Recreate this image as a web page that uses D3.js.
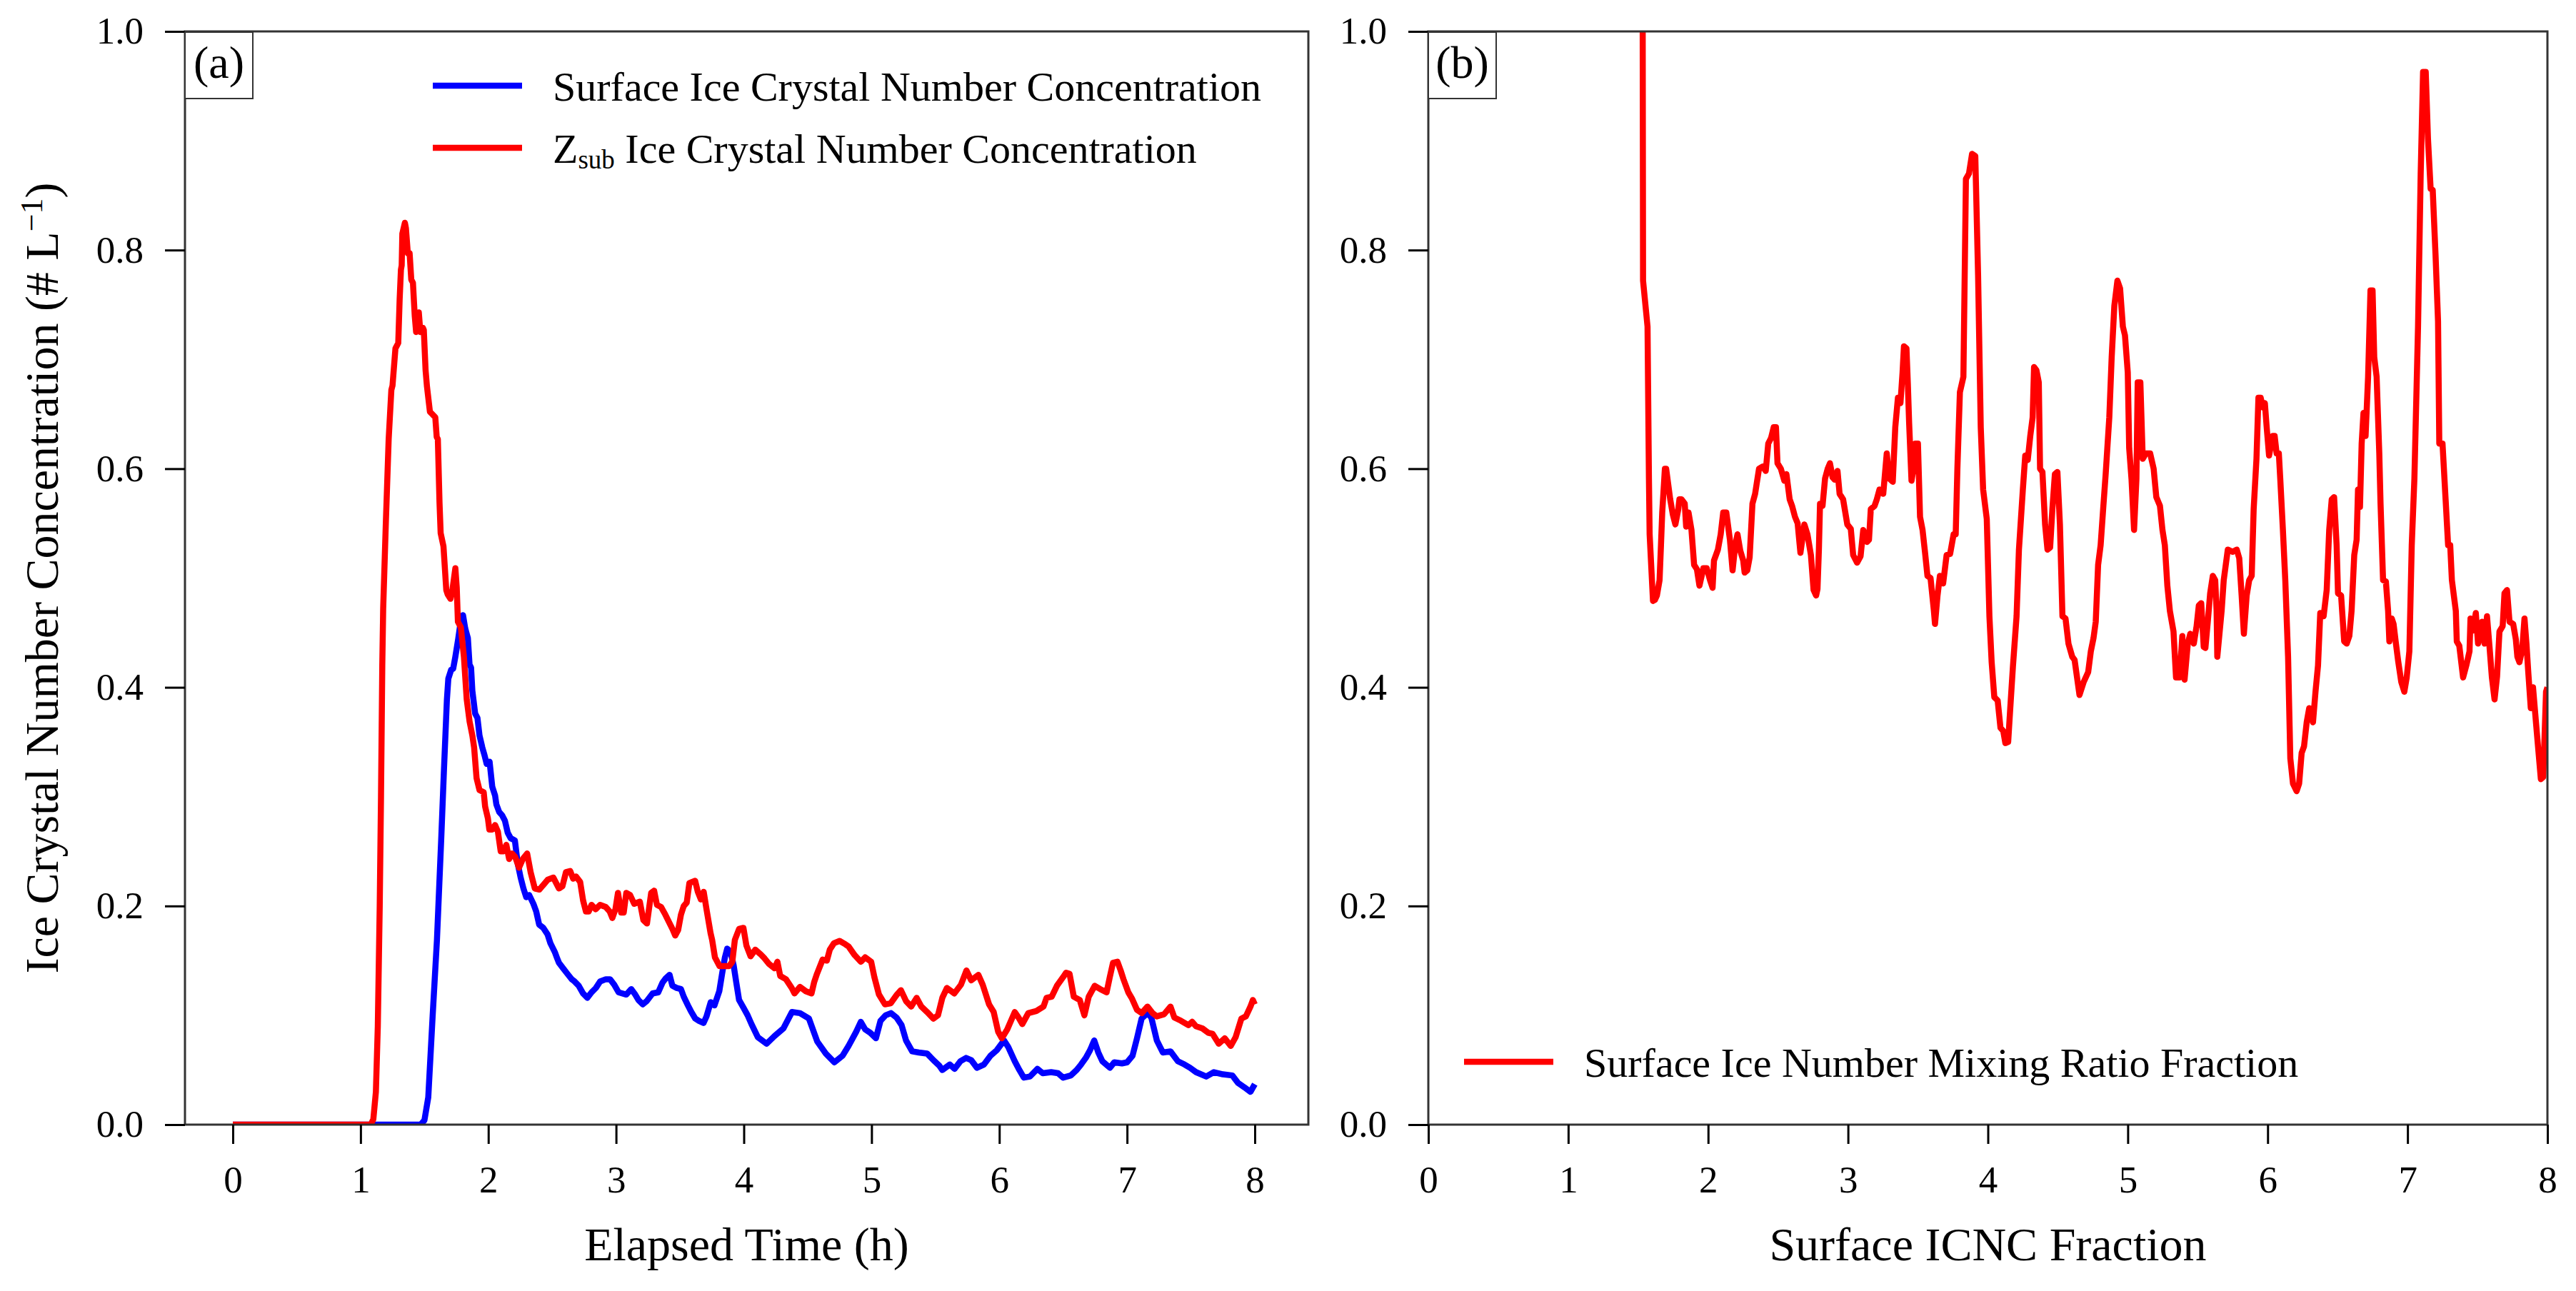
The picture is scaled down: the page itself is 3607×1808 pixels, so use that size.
<!DOCTYPE html>
<html>
<head>
<meta charset="utf-8">
<script src="https://cdn.jsdelivr.net/npm/d3@7"></script>
<style>
  body { margin: 0; background: #fff; }
  text { font-family: "Liberation Serif", "Times New Roman", serif; fill: #000; }
</style>
</head>
<body>
<div id="chart"></div>
<script>
// ---- data ----
// (a) surface ice crystal number concentration (# L-1) vs elapsed time (h)
const surfTime = [0, 1.47, 1.50, 1.53, 1.564, 1.598, 1.631, 1.653, 1.676, 1.687, 1.709, 1.725, 1.742, 1.764, 1.786, 1.802, 1.819, 1.84, 1.853, 1.865, 1.875, 1.897, 1.915, 1.931, 1.953, 1.97, 1.987, 2.01, 2.031, 2.053, 2.063, 2.085, 2.108, 2.13, 2.152, 2.175, 2.208, 2.23, 2.253, 2.275, 2.297, 2.32, 2.353, 2.375, 2.398, 2.43, 2.464, 2.486, 2.52, 2.536, 2.553, 2.586, 2.619, 2.653, 2.675, 2.708, 2.742, 2.775, 2.808, 2.842, 2.875, 2.92, 2.953, 2.986, 3.02, 3.08, 3.119, 3.15, 3.175, 3.209, 3.24, 3.286, 3.33, 3.364, 3.39, 3.419, 3.441, 3.475, 3.508, 3.53, 3.563, 3.585, 3.62, 3.648, 3.685, 3.708, 3.741, 3.77, 3.808, 3.83, 3.852, 3.87, 3.896, 3.92, 3.941, 3.963, 3.997, 4.03, 4.06, 4.11, 4.178, 4.24, 4.31, 4.377, 4.44, 4.51, 4.575, 4.642, 4.709, 4.773, 4.82, 4.88, 4.916, 4.951, 4.99, 5.034, 5.07, 5.11, 5.152, 5.195, 5.235, 5.27, 5.318, 5.37, 5.435, 5.484, 5.53, 5.554, 5.613, 5.65, 5.696, 5.74, 5.78, 5.825, 5.88, 5.931, 5.98, 6.037, 6.07, 6.121, 6.157, 6.192, 6.24, 6.298, 6.34, 6.406, 6.46, 6.50, 6.56, 6.606, 6.64, 6.677, 6.71, 6.743, 6.775, 6.807, 6.866, 6.9, 6.96, 7.0, 7.043, 7.078, 7.114, 7.16, 7.19, 7.233, 7.28, 7.34, 7.398, 7.45, 7.493, 7.54, 7.62, 7.68, 7.75, 7.824, 7.87, 7.92, 7.966, 8.0];
const surfIcnc = [0, 0, 0.004, 0.025, 0.099, 0.169, 0.260, 0.325, 0.389, 0.408, 0.416, 0.417, 0.428, 0.444, 0.462, 0.466, 0.454, 0.445, 0.421, 0.418, 0.397, 0.376, 0.372, 0.356, 0.345, 0.338, 0.330, 0.332, 0.309, 0.301, 0.293, 0.286, 0.283, 0.278, 0.267, 0.262, 0.260, 0.239, 0.226, 0.216, 0.208, 0.210, 0.202, 0.195, 0.183, 0.180, 0.174, 0.166, 0.158, 0.153, 0.148, 0.143, 0.138, 0.133, 0.131, 0.127, 0.120, 0.116, 0.121, 0.125, 0.131, 0.133, 0.133, 0.128, 0.121, 0.119, 0.124, 0.119, 0.114, 0.110, 0.113, 0.120, 0.121, 0.130, 0.134, 0.137, 0.127, 0.125, 0.124, 0.117, 0.109, 0.104, 0.097, 0.095, 0.093, 0.099, 0.112, 0.109, 0.122, 0.138, 0.153, 0.161, 0.158, 0.146, 0.130, 0.114, 0.107, 0.100, 0.092, 0.080, 0.074, 0.081, 0.088, 0.103, 0.102, 0.097, 0.076, 0.065, 0.057, 0.063, 0.072, 0.085, 0.094, 0.087, 0.084, 0.079, 0.095, 0.100, 0.102, 0.098, 0.091, 0.077, 0.067, 0.066, 0.065, 0.059, 0.054, 0.050, 0.055, 0.051, 0.058, 0.061, 0.059, 0.052, 0.055, 0.063, 0.068, 0.077, 0.071, 0.058, 0.050, 0.043, 0.044, 0.051, 0.047, 0.048, 0.047, 0.043, 0.045, 0.050, 0.055, 0.061, 0.068, 0.077, 0.066, 0.058, 0.052, 0.057, 0.056, 0.057, 0.063, 0.079, 0.097, 0.102, 0.098, 0.077, 0.066, 0.067, 0.058, 0.055, 0.052, 0.048, 0.044, 0.048, 0.046, 0.045, 0.038, 0.034, 0.030, 0.037];

// (a) Zsub ice crystal number concentration (# L-1)
const zsubTime = [0, 1.08, 1.10, 1.12, 1.135, 1.15, 1.16, 1.17, 1.177, 1.198, 1.220, 1.241, 1.25, 1.273, 1.295, 1.306, 1.316, 1.322, 1.327, 1.347, 1.355, 1.37, 1.384, 1.397, 1.41, 1.424, 1.435, 1.456, 1.468, 1.487, 1.495, 1.509, 1.520, 1.543, 1.56, 1.585, 1.596, 1.605, 1.618, 1.627, 1.649, 1.671, 1.682, 1.704, 1.72, 1.742, 1.753, 1.762, 1.785, 1.809, 1.831, 1.853, 1.875, 1.889, 1.908, 1.931, 1.964, 1.975, 1.997, 2.008, 2.03, 2.053, 2.075, 2.097, 2.12, 2.141, 2.163, 2.185, 2.21, 2.24, 2.27, 2.304, 2.331, 2.364, 2.40, 2.443, 2.465, 2.509, 2.553, 2.58, 2.608, 2.641, 2.664, 2.686, 2.719, 2.742, 2.764, 2.786, 2.808, 2.84, 2.875, 2.92, 2.95, 2.971, 2.995, 3.015, 3.04, 3.06, 3.08, 3.11, 3.142, 3.186, 3.214, 3.242, 3.275, 3.298, 3.32, 3.353, 3.386, 3.42, 3.441, 3.463, 3.486, 3.508, 3.53, 3.553, 3.574, 3.619, 3.64, 3.664, 3.686, 3.708, 3.74, 3.752, 3.774, 3.81, 3.85, 3.885, 3.91, 3.93, 3.963, 3.997, 4.02, 4.053, 4.09, 4.13, 4.163, 4.197, 4.241, 4.263, 4.285, 4.33, 4.375, 4.397, 4.44, 4.486, 4.53, 4.55, 4.573, 4.617, 4.65, 4.673, 4.706, 4.75, 4.795, 4.82, 4.868, 4.916, 4.95, 4.997, 5.022, 5.058, 5.105, 5.15, 5.199, 5.23, 5.27, 5.31, 5.353, 5.39, 5.435, 5.484, 5.52, 5.554, 5.59, 5.648, 5.70, 5.743, 5.78, 5.836, 5.87, 5.92, 5.956, 5.991, 6.02, 6.062, 6.121, 6.15, 6.18, 6.227, 6.29, 6.346, 6.37, 6.41, 6.451, 6.50, 6.523, 6.55, 6.583, 6.63, 6.666, 6.70, 6.747, 6.79, 6.84, 6.865, 6.89, 6.925, 6.95, 6.972, 7.01, 7.04, 7.078, 7.115, 7.16, 7.2, 7.233, 7.29, 7.34, 7.37, 7.422, 7.48, 7.51, 7.54, 7.59, 7.636, 7.67, 7.718, 7.765, 7.812, 7.85, 7.895, 7.93, 7.966, 7.985, 8.0];
const zsubIcnc = [0, 0, 0.005, 0.03, 0.09, 0.20, 0.30, 0.42, 0.472, 0.551, 0.627, 0.672, 0.676, 0.710, 0.715, 0.755, 0.782, 0.786, 0.815, 0.825, 0.82, 0.797, 0.797, 0.773, 0.77, 0.740, 0.725, 0.743, 0.725, 0.729, 0.727, 0.690, 0.675, 0.652, 0.650, 0.647, 0.629, 0.627, 0.569, 0.541, 0.529, 0.489, 0.485, 0.481, 0.49, 0.509, 0.491, 0.460, 0.455, 0.428, 0.389, 0.369, 0.356, 0.345, 0.317, 0.306, 0.304, 0.291, 0.280, 0.270, 0.270, 0.274, 0.268, 0.250, 0.250, 0.256, 0.243, 0.248, 0.245, 0.235, 0.243, 0.248, 0.231, 0.216, 0.215, 0.221, 0.224, 0.226, 0.216, 0.218, 0.231, 0.232, 0.225, 0.227, 0.222, 0.205, 0.195, 0.195, 0.201, 0.197, 0.201, 0.199, 0.195, 0.189, 0.197, 0.212, 0.194, 0.194, 0.212, 0.210, 0.202, 0.204, 0.187, 0.184, 0.212, 0.214, 0.201, 0.199, 0.192, 0.184, 0.179, 0.173, 0.178, 0.192, 0.200, 0.203, 0.221, 0.223, 0.213, 0.206, 0.213, 0.197, 0.175, 0.169, 0.153, 0.145, 0.145, 0.145, 0.149, 0.169, 0.179, 0.180, 0.164, 0.154, 0.160, 0.156, 0.152, 0.147, 0.143, 0.149, 0.136, 0.133, 0.125, 0.120, 0.126, 0.122, 0.120, 0.130, 0.138, 0.151, 0.150, 0.160, 0.166, 0.168, 0.165, 0.163, 0.155, 0.149, 0.153, 0.149, 0.135, 0.119, 0.110, 0.111, 0.119, 0.123, 0.113, 0.108, 0.116, 0.108, 0.103, 0.097, 0.100, 0.116, 0.125, 0.120, 0.128, 0.141, 0.132, 0.137, 0.128, 0.110, 0.103, 0.085, 0.079, 0.087, 0.103, 0.098, 0.092, 0.102, 0.104, 0.108, 0.116, 0.117, 0.127, 0.135, 0.139, 0.138, 0.117, 0.114, 0.100, 0.117, 0.127, 0.124, 0.121, 0.135, 0.148, 0.149, 0.141, 0.133, 0.121, 0.115, 0.105, 0.102, 0.108, 0.102, 0.099, 0.101, 0.108, 0.098, 0.095, 0.091, 0.094, 0.090, 0.088, 0.084, 0.083, 0.074, 0.079, 0.072, 0.080, 0.097, 0.099, 0.108, 0.114, 0.110];

// (b) surface ice number mixing ratio fraction
const fracTime = [1.528, 1.535, 1.567, 1.577, 1.582, 1.606, 1.62, 1.634, 1.653, 1.663, 1.672, 1.691, 1.70, 1.729, 1.748, 1.766, 1.787, 1.795, 1.81, 1.833, 1.843, 1.86, 1.881, 1.90, 1.92, 1.938, 1.966, 1.99, 2.014, 2.032, 2.042, 2.07, 2.09, 2.108, 2.13, 2.156, 2.175, 2.194, 2.21, 2.23, 2.251, 2.261, 2.28, 2.297, 2.317, 2.336, 2.353, 2.364, 2.39, 2.412, 2.43, 2.45, 2.469, 2.485, 2.496, 2.52, 2.545, 2.56, 2.583, 2.60, 2.621, 2.64, 2.66, 2.688, 2.71, 2.735, 2.754, 2.772, 2.782, 2.792, 2.80, 2.818, 2.836, 2.855, 2.871, 2.89, 2.905, 2.925, 2.94, 2.965, 2.995, 3.02, 3.037, 3.065, 3.09, 3.109, 3.136, 3.15, 3.163, 3.19, 3.206, 3.225, 3.252, 3.277, 3.295, 3.32, 3.338, 3.357, 3.375, 3.39, 3.40, 3.418, 3.428, 3.437, 3.454, 3.468, 3.481, 3.50, 3.515, 3.533, 3.551, 3.568, 3.59, 3.614, 3.622, 3.64, 3.657, 3.68, 3.705, 3.73, 3.755, 3.77, 3.782, 3.80, 3.825, 3.843, 3.865, 3.887, 3.91, 3.93, 3.949, 3.966, 3.992, 4.011, 4.027, 4.046, 4.07, 4.09, 4.11, 4.125, 4.145, 4.16, 4.179, 4.205, 4.222, 4.25, 4.267, 4.285, 4.303, 4.32, 4.33, 4.347, 4.364, 4.373, 4.39, 4.409, 4.426, 4.445, 4.461, 4.479, 4.497, 4.515, 4.533, 4.555, 4.576, 4.603, 4.62, 4.655, 4.685, 4.717, 4.736, 4.755, 4.771, 4.788, 4.806, 4.824, 4.842, 4.868, 4.885, 4.904, 4.926, 4.945, 4.965, 4.98, 5.0, 5.01, 5.027, 5.045, 5.062, 5.071, 5.09, 5.107, 5.13, 5.16, 5.185, 5.204, 5.23, 5.248, 5.265, 5.283, 5.301, 5.327, 5.345, 5.37, 5.39, 5.406, 5.429, 5.447, 5.472, 5.492, 5.508, 5.525, 5.543, 5.555, 5.572, 5.589, 5.608, 5.625, 5.635, 5.64, 5.671, 5.686, 5.715, 5.75, 5.779, 5.797, 5.814, 5.83, 5.85, 5.868, 5.886, 5.90, 5.92, 5.934, 5.95, 5.966, 5.98, 5.993, 6.01, 6.037, 6.05, 6.064, 6.08, 6.09, 6.109, 6.126, 6.146, 6.162, 6.181, 6.207, 6.225, 6.243, 6.26, 6.279, 6.297, 6.324, 6.342, 6.36, 6.376, 6.40, 6.422, 6.44, 6.458, 6.475, 6.493, 6.503, 6.525, 6.547, 6.565, 6.584, 6.60, 6.619, 6.636, 6.646, 6.66, 6.672, 6.685, 6.70, 6.718, 6.735, 6.75, 6.762, 6.779, 6.798, 6.807, 6.825, 6.845, 6.861, 6.87, 6.887, 6.90, 6.915, 6.933, 6.955, 6.977, 6.994, 7.013, 7.03, 7.049, 7.075, 7.094, 7.111, 7.13, 7.146, 7.165, 7.18, 7.20, 7.218, 7.227, 7.25, 7.272, 7.29, 7.305, 7.317, 7.345, 7.352, 7.37, 7.397, 7.42, 7.443, 7.45, 7.468, 7.488, 7.504, 7.532, 7.55, 7.568, 7.586, 7.603, 7.622, 7.64, 7.657, 7.68, 7.693, 7.711, 7.729, 7.755, 7.774, 7.785, 7.80, 7.82, 7.836, 7.85, 7.863, 7.881, 7.897, 7.918, 7.93, 7.953, 7.97, 7.99, 8.0];
const fracValue = [1.4, 0.772, 0.730, 0.591, 0.540, 0.479, 0.48, 0.484, 0.498, 0.530, 0.560, 0.600, 0.600, 0.572, 0.558, 0.549, 0.563, 0.572, 0.572, 0.568, 0.547, 0.560, 0.544, 0.512, 0.508, 0.493, 0.509, 0.509, 0.498, 0.491, 0.516, 0.526, 0.540, 0.560, 0.560, 0.535, 0.507, 0.530, 0.540, 0.525, 0.516, 0.505, 0.507, 0.519, 0.568, 0.577, 0.591, 0.600, 0.602, 0.598, 0.623, 0.628, 0.638, 0.638, 0.605, 0.600, 0.589, 0.595, 0.572, 0.566, 0.556, 0.550, 0.523, 0.549, 0.540, 0.521, 0.489, 0.484, 0.490, 0.526, 0.568, 0.566, 0.591, 0.600, 0.605, 0.592, 0.590, 0.598, 0.577, 0.572, 0.549, 0.545, 0.521, 0.514, 0.520, 0.544, 0.533, 0.535, 0.563, 0.566, 0.572, 0.581, 0.577, 0.614, 0.591, 0.588, 0.638, 0.665, 0.66, 0.688, 0.712, 0.710, 0.677, 0.642, 0.589, 0.600, 0.623, 0.623, 0.556, 0.544, 0.523, 0.502, 0.500, 0.470, 0.458, 0.484, 0.502, 0.495, 0.521, 0.522, 0.540, 0.540, 0.600, 0.670, 0.684, 0.865, 0.870, 0.888, 0.886, 0.777, 0.638, 0.581, 0.554, 0.465, 0.423, 0.391, 0.388, 0.363, 0.360, 0.349, 0.350, 0.381, 0.419, 0.465, 0.526, 0.581, 0.612, 0.608, 0.630, 0.647, 0.693, 0.690, 0.679, 0.600, 0.597, 0.549, 0.526, 0.528, 0.563, 0.595, 0.597, 0.549, 0.465, 0.463, 0.440, 0.428, 0.425, 0.393, 0.405, 0.414, 0.433, 0.445, 0.460, 0.512, 0.530, 0.563, 0.595, 0.647, 0.702, 0.749, 0.772, 0.765, 0.730, 0.722, 0.688, 0.619, 0.590, 0.544, 0.591, 0.679, 0.679, 0.609, 0.614, 0.614, 0.600, 0.574, 0.566, 0.544, 0.530, 0.493, 0.470, 0.451, 0.409, 0.409, 0.447, 0.407, 0.440, 0.449, 0.440, 0.456, 0.475, 0.477, 0.437, 0.436, 0.460, 0.486, 0.502, 0.498, 0.470, 0.428, 0.470, 0.498, 0.526, 0.524, 0.526, 0.518, 0.484, 0.449, 0.484, 0.498, 0.502, 0.563, 0.609, 0.665, 0.665, 0.656, 0.660, 0.638, 0.612, 0.630, 0.630, 0.614, 0.614, 0.591, 0.544, 0.498, 0.428, 0.335, 0.312, 0.305, 0.312, 0.340, 0.346, 0.368, 0.381, 0.368, 0.396, 0.420, 0.468, 0.465, 0.489, 0.544, 0.572, 0.574, 0.530, 0.486, 0.484, 0.442, 0.440, 0.447, 0.470, 0.521, 0.535, 0.581, 0.565, 0.623, 0.651, 0.630, 0.684, 0.763, 0.763, 0.702, 0.684, 0.614, 0.568, 0.498, 0.497, 0.470, 0.442, 0.463, 0.458, 0.442, 0.424, 0.405, 0.396, 0.409, 0.433, 0.530, 0.591, 0.730, 0.870, 0.963, 0.963, 0.902, 0.856, 0.855, 0.796, 0.735, 0.623, 0.623, 0.572, 0.530, 0.530, 0.498, 0.470, 0.442, 0.438, 0.409, 0.420, 0.433, 0.463, 0.452, 0.468, 0.440, 0.460, 0.440, 0.465, 0.437, 0.409, 0.389, 0.410, 0.451, 0.456, 0.486, 0.489, 0.460, 0.458, 0.444, 0.428, 0.423, 0.435, 0.463, 0.440, 0.414, 0.381, 0.400, 0.368, 0.350, 0.316, 0.318, 0.396, 0.40];

const xTicks = [0, 1, 2, 3, 4, 5, 6, 7, 8];
const yTicks = [0, 0.2, 0.4, 0.6, 0.8, 1.0];

// ---- layout ----
const width = 3607, height = 1808;
const plotTop = 44, plotBottom = 1575;
const fontTick = 53, fontLegend = 58, fontTitle = 66, fontTag = 64;
const lineWidth = 8.5;

const svg = d3.select('#chart')
    .append('svg')
    .attr('width', width)
    .attr('height', height)
    .style('background-color', '#fff');

const y = d3.scaleLinear().domain([0, 1]).range([plotBottom, plotTop]);

function drawPanel(p) {
    const g = svg.append('g');
    const clipId = 'clip-' + p.tag;

    g.append('clipPath').attr('id', clipId)
        .append('rect')
        .attr('x', p.left).attr('y', plotTop)
        .attr('width', p.right - p.left).attr('height', plotBottom - plotTop);

    // series
    const line = d3.line().x(d => p.x(d[0])).y(d => y(d[1]));
    p.series.forEach(s => {
        g.append('path')
            .datum(d3.zip(s.t, s.v))
            .attr('clip-path', `url(#${clipId})`)
            .attr('fill', 'none')
            .attr('stroke', s.color)
            .attr('stroke-width', lineWidth)
            .attr('stroke-linejoin', 'round')
            .attr('d', line);
    });

    // frame
    g.append('rect')
        .attr('x', p.left).attr('y', plotTop)
        .attr('width', p.right - p.left).attr('height', plotBottom - plotTop)
        .attr('fill', 'none')
        .attr('stroke', '#333')
        .attr('stroke-width', 3);

    // axes
    const xAxis = g.append('g')
        .attr('transform', `translate(0,${plotBottom})`)
        .call(d3.axisBottom(p.x).tickValues(xTicks).tickSize(27).tickPadding(30).tickFormat(d3.format('d')));
    const yAxis = g.append('g')
        .attr('transform', `translate(${p.left},0)`)
        .call(d3.axisLeft(y).tickValues(yTicks).tickSize(28).tickPadding(30).tickFormat(d3.format('.1f')));
    [xAxis, yAxis].forEach(a => {
        a.select('.domain').remove();
        a.selectAll('line').attr('stroke', '#000').attr('stroke-width', 3);
        a.selectAll('text')
            .style('font-family', '"Liberation Serif", "Times New Roman", serif')
            .style('font-size', fontTick + 'px')
            .attr('fill', '#000');
    });

    // x title
    g.append('text')
        .attr('x', (p.left + p.right) / 2)
        .attr('y', 1765)
        .attr('text-anchor', 'middle')
        .style('font-size', fontTitle + 'px')
        .text(p.xTitle);

    // panel tag
    g.append('rect')
        .attr('x', p.left).attr('y', plotTop + 1)
        .attr('width', 95).attr('height', 93)
        .attr('fill', '#fff')
        .attr('stroke', '#333')
        .attr('stroke-width', 2);
    g.append('text')
        .attr('x', p.left + 47.5)
        .attr('y', 109)
        .attr('text-anchor', 'middle')
        .style('font-size', fontTag + 'px')
        .text(`(${p.tag})`);

    // legend
    p.legend.forEach(L => {
        g.append('line')
            .attr('x1', L.x).attr('x2', L.x + 125)
            .attr('y1', L.y).attr('y2', L.y)
            .attr('stroke', L.color)
            .attr('stroke-width', lineWidth);
        const t = g.append('text')
            .attr('x', L.x + 168)
            .attr('y', L.y + 21)
            .style('font-size', fontLegend + 'px');
        L.parts.forEach(part => {
            t.append('tspan')
                .attr('dy', part.dy || 0)
                .style('font-size', (part.size || fontLegend) + 'px')
                .text(part.text);
        });
    });
    return g;
}

// (a)
const xLeft = d3.scaleLinear().domain([0, 8]).range([326, 1757]);
drawPanel({
    tag: 'a', left: 259, right: 1832, x: xLeft,
    xTitle: 'Elapsed Time (h)',
    series: [
        {t: surfTime, v: surfIcnc, color: '#0000ff'},
        {t: zsubTime, v: zsubIcnc, color: '#ff0000'}
    ],
    legend: [
        {x: 606, y: 120, color: '#0000ff', parts: [{text: 'Surface Ice Crystal Number Concentration'}]},
        {x: 606, y: 207, color: '#ff0000', parts: [
            {text: 'Z'},
            {text: 'sub', size: 37, dy: 8},
            {text: ' Ice Crystal Number Concentration', dy: -8}
        ]}
    ]
});

// y title of (a)
const yTitle = svg.append('text')
    .attr('transform', `translate(81,${(plotTop + plotBottom) / 2}) rotate(-90)`)
    .attr('text-anchor', 'middle')
    .style('font-size', fontTitle + 'px');
yTitle.append('tspan').text('Ice Crystal Number Concentration (# L');
yTitle.append('tspan').attr('dy', -22).style('font-size', '44px').text('\u22121');
yTitle.append('tspan').attr('dy', 22).text(')');

// (b)
const xRight = d3.scaleLinear().domain([0, 8]).range([2000, 3567]);
drawPanel({
    tag: 'b', left: 2000, right: 3567, x: xRight,
    xTitle: 'Surface ICNC Fraction',
    series: [
        {t: fracTime, v: fracValue, color: '#ff0000'}
    ],
    legend: [
        {x: 2050, y: 1487, color: '#ff0000', parts: [{text: 'Surface Ice Number Mixing Ratio Fraction'}]}
    ]
});
</script>
</body>
</html>
